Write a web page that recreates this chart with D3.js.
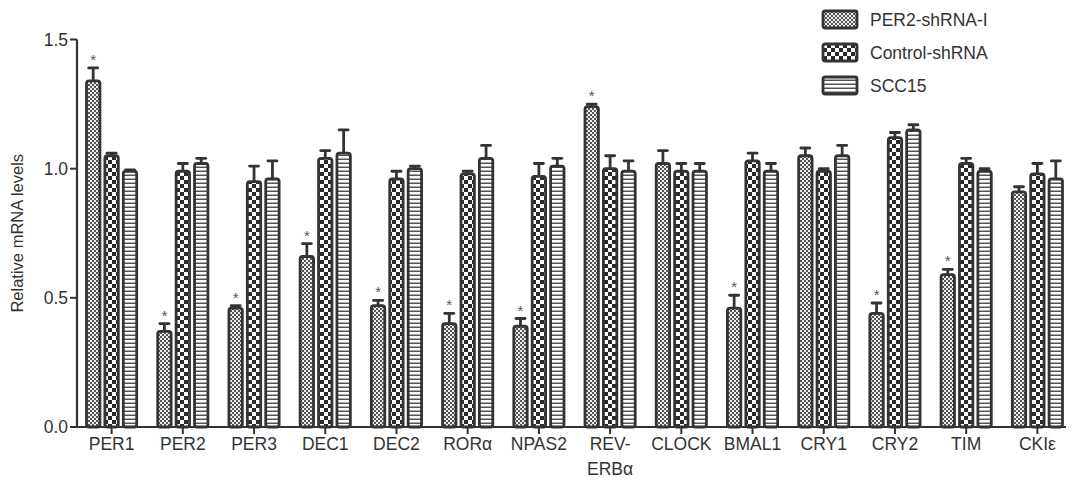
<!DOCTYPE html>
<html>
<head>
<meta charset="utf-8">
<script src="https://cdn.jsdelivr.net/npm/d3@7"></script>
<style>
  body { margin: 0; background: #fff; }
  text { font-family: "Liberation Sans", Arial, sans-serif; fill: #333; }
</style>
</head>
<body>
<script>
// data
let genes = ['PER1', 'PER2', 'PER3', 'DEC1', 'DEC2', 'ROR\u03b1', 'NPAS2', 'REV-ERB\u03b1', 'CLOCK', 'BMAL1', 'CRY1', 'CRY2', 'TIM', 'CKI\u03b5'];
let series = ['PER2-shRNA-I', 'Control-shRNA', 'SCC15'];
let shPer2 = [1.34, 0.37, 0.46, 0.66, 0.47, 0.40, 0.39, 1.24, 1.02, 0.46, 1.05, 0.44, 0.59, 0.91];
let shPer2Err = [0.05, 0.03, 0.01, 0.05, 0.02, 0.04, 0.03, 0.01, 0.05, 0.05, 0.03, 0.04, 0.02, 0.02];
let control = [1.05, 0.99, 0.95, 1.04, 0.96, 0.98, 0.97, 1.00, 0.99, 1.03, 0.99, 1.12, 1.02, 0.98];
let controlErr = [0.01, 0.03, 0.06, 0.03, 0.03, 0.01, 0.05, 0.05, 0.03, 0.03, 0.01, 0.02, 0.02, 0.04];
let scc15 = [0.99, 1.02, 0.96, 1.06, 1.00, 1.04, 1.01, 0.99, 0.99, 0.99, 1.05, 1.15, 0.99, 0.96];
let scc15Err = [0.005, 0.02, 0.07, 0.09, 0.01, 0.05, 0.03, 0.04, 0.03, 0.03, 0.04, 0.02, 0.01, 0.07];
let significant = [true, true, true, true, true, true, true, true, false, true, false, true, true, false];
let yTicks = [0, 0.5, 1.0, 1.5];

let width = 1078, height = 488;
let margin = {top: 39.5, left: 77, bottom: 61, right: 5};

let svg = d3.select('body').append('svg')
    .attr('width', width)
    .attr('height', height);

let defs = svg.append('defs');
// fine checker for PER2-shRNA-I
let p1 = defs.append('pattern').attr('id', 'pat0')
    .attr('patternUnits', 'userSpaceOnUse').attr('width', 4).attr('height', 4);
p1.append('rect').attr('width', 4).attr('height', 4).attr('fill', '#eee');
p1.append('rect').attr('width', 2).attr('height', 2).attr('fill', '#555');
p1.append('rect').attr('x', 2).attr('y', 2).attr('width', 2).attr('height', 2).attr('fill', '#555');
// coarse checker for Control-shRNA
let p2 = defs.append('pattern').attr('id', 'pat1')
    .attr('patternUnits', 'userSpaceOnUse').attr('width', 8).attr('height', 8);
p2.append('rect').attr('width', 8).attr('height', 8).attr('fill', '#2a2a2a');
p2.append('rect').attr('width', 4).attr('height', 4).attr('fill', '#fff');
p2.append('rect').attr('x', 4).attr('y', 4).attr('width', 4).attr('height', 4).attr('fill', '#fff');
// horizontal stripes for SCC15
let p3 = defs.append('pattern').attr('id', 'pat2')
    .attr('patternUnits', 'userSpaceOnUse').attr('width', 4).attr('height', 4);
p3.append('rect').attr('width', 4).attr('height', 4).attr('fill', '#fff');
p3.append('rect').attr('y', 2.5).attr('width', 4).attr('height', 1.5).attr('fill', '#555');

let y = d3.scaleLinear().domain([0, 1.5]).range([height - margin.bottom, margin.top]);
let x0 = d3.scaleBand().domain(genes).range([76, 1073]);
let x1 = d3.scaleBand().domain(series).range([-26.5, 26.5]).paddingInner(0.12);

let values = [shPer2, control, scc15];
let errors = [shPer2Err, controlErr, scc15Err];
let rows = [];
genes.forEach((gname, i) => {
    series.forEach((s, j) => {
        rows.push({gene: gname, s: s, j: j, v: values[j][i], e: errors[j][i], sig: j === 0 && significant[i]});
    });
});

let cx = d => x0(d.gene) + x0.bandwidth() / 2 + x1(d.s) + x1.bandwidth() / 2;

let g = svg.append('g');
let sw = 2.8;

// error bars
g.selectAll('.err').data(rows).enter().append('line')
    .attr('x1', cx).attr('x2', cx)
    .attr('y1', d => y(d.v)).attr('y2', d => y(d.v + d.e))
    .attr('stroke', '#333').attr('stroke-width', sw);
g.selectAll('.cap').data(rows).enter().append('line')
    .attr('x1', d => cx(d) - 4.5).attr('x2', d => cx(d) + 4.5)
    .attr('y1', d => y(d.v + d.e)).attr('y2', d => y(d.v + d.e))
    .attr('stroke', '#333').attr('stroke-width', sw).attr('stroke-linecap', 'round');

// bars
g.selectAll('.bar').data(rows).enter().append('rect')
    .attr('x', d => cx(d) - x1.bandwidth() / 2 + sw / 2)
    .attr('width', x1.bandwidth() - sw)
    .attr('y', d => y(d.v))
    .attr('height', d => y(0) - y(d.v))
    .attr('rx', 2.5)
    .attr('fill', d => `url(#pat${d.j})`)
    .attr('stroke', '#333').attr('stroke-width', sw);

// asterisks
g.selectAll('.star').data(rows.filter(d => d.sig)).enter().append('text')
    .attr('x', cx)
    .attr('y', d => y(d.v + d.e) - 3)
    .attr('text-anchor', 'middle')
    .style('font-size', '15px')
    .style('fill', '#555')
    .text('*');

// axes
let axisColor = '#333';
svg.append('line')
    .attr('x1', margin.left).attr('x2', margin.left)
    .attr('y1', y(1.5)).attr('y2', y(0))
    .attr('stroke', axisColor).attr('stroke-width', 2.2);
svg.append('line')
    .attr('x1', margin.left).attr('x2', 1066)
    .attr('y1', y(0)).attr('y2', y(0))
    .attr('stroke', axisColor).attr('stroke-width', 2.2);

svg.selectAll('.ytick').data(yTicks).enter().append('line')
    .attr('x1', margin.left - 7).attr('x2', margin.left)
    .attr('y1', d => y(d)).attr('y2', d => y(d))
    .attr('stroke', axisColor).attr('stroke-width', 2);
svg.selectAll('.ylab').data(yTicks).enter().append('text')
    .attr('x', margin.left - 9)
    .attr('y', d => y(d))
    .attr('dy', '0.35em')
    .attr('text-anchor', 'end')
    .style('font-size', '17.5px')
    .text(d => d3.format('.1f')(d));

svg.selectAll('.xtick').data(genes).enter().append('line')
    .attr('x1', d => x0(d) + x0.bandwidth() / 2).attr('x2', d => x0(d) + x0.bandwidth() / 2)
    .attr('y1', y(0)).attr('y2', y(0) + 7)
    .attr('stroke', axisColor).attr('stroke-width', 2);
let xl = svg.selectAll('.xlab').data(genes).enter().append('text')
    .attr('x', d => x0(d) + x0.bandwidth() / 2)
    .attr('y', 450)
    .attr('text-anchor', 'middle')
    .style('font-size', '17.5px');
xl.each(function(d) {
    let parts = d === 'REV-ERB\u03b1' ? ['REV-', 'ERB\u03b1'] : [d];
    d3.select(this).selectAll('tspan').data(parts).enter().append('tspan')
        .attr('x', x0(d) + x0.bandwidth() / 2)
        .attr('dy', (p, i) => i === 0 ? 0 : 25)
        .text(p => p);
});

svg.append('text')
    .attr('transform', `translate(23, ${(y(0) + y(1.5)) / 2}) rotate(-90)`)
    .attr('text-anchor', 'middle')
    .style('font-size', '16.5px')
    .text('Relative mRNA levels');

// legend
let legend = svg.append('g').attr('transform', 'translate(823, 11)');
let li = legend.selectAll('.li').data(series).enter().append('g')
    .attr('transform', (d, i) => `translate(0, ${i * 33})`);
li.append('rect')
    .attr('width', 34).attr('height', 17).attr('rx', 2)
    .attr('fill', (d, i) => `url(#pat${i})`)
    .attr('stroke', '#333').attr('stroke-width', sw);
li.append('text')
    .attr('x', 47).attr('y', 8.5).attr('dy', '0.35em')
    .style('font-size', '17.5px')
    .text(d => d);
</script>
</body>
</html>
